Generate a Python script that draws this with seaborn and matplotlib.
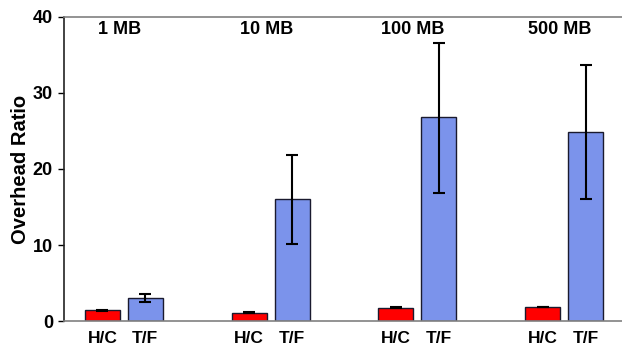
import numpy as np
import pandas as pd
import seaborn as sns
import matplotlib.pyplot as plt

# =========================
# DATA
# =========================
sizes = ["1 MB", "10 MB", "100 MB", "500 MB"]
methods = ["H/C", "T/F"]

hc_ratio = [1.40, 1.10, 1.75, 1.84]
tf_ratio = [3.05, 16.0, 26.8, 24.9]

hc_low = [1.35, 1.05, 1.68, 1.79]
hc_high = [1.45, 1.15, 1.82, 1.89]
tf_low = [2.55, 10.1, 16.9, 16.0]
tf_high = [3.55, 21.9, 36.6, 33.7]

df = pd.DataFrame({
    "Size": sizes * 2,
    "Method": ["H/C"] * 4 + ["T/F"] * 4,
    "Ratio": hc_ratio + tf_ratio,
})

colors = {"H/C": "#FF0000", "T/F": "#7B93EB"}

# =========================
# PLOT
# =========================
sns.set_theme(style="ticks")
plt.rcParams["font.family"] = ["Liberation Sans", "DejaVu Sans"]
plt.rcParams["font.weight"] = "bold"
plt.rcParams["text.color"] = "black"
plt.rcParams["axes.labelcolor"] = "black"
plt.rcParams["xtick.color"] = "black"
plt.rcParams["ytick.color"] = "black"

fig = plt.figure(figsize=(6.22, 3.43), dpi=100)
ax = fig.add_axes([64 / 622, 22 / 343, 558 / 622, 304 / 343])

sns.barplot(
    data=df, x="Size", y="Ratio", hue="Method",
    order=sizes, hue_order=methods,
    palette=colors, saturation=1, width=0.585, gap=0.186,
    edgecolor="#1a1a2e", linewidth=1.0,
    errorbar=None, legend=False, ax=ax,
)

# error bars from the low/high arrays
lows = [hc_low, tf_low]
highs = [hc_high, tf_high]
bar_groups = list(ax.containers)
tick_pos, tick_lab = [], []
for i, cont in enumerate(bar_groups):
    for j, bar in enumerate(cont.patches):
        xc = bar.get_x() + bar.get_width() / 2
        h = bar.get_height()
        ax.errorbar(xc, h, yerr=[[h - lows[i][j]], [highs[i][j] - h]],
                    fmt="none", ecolor="black", elinewidth=1.5,
                    capsize=4, capthick=1.5, zorder=5)
        tick_pos.append(xc)
        tick_lab.append(methods[i])

ax.set_xticks(tick_pos)
ax.set_xticklabels(tick_lab, fontsize=12.5, fontweight="bold")
ax.tick_params(axis="x", length=0, pad=7)

# group labels on top
for k, s in enumerate(sizes):
    ax.text(k - 0.03, 38.3, s, ha="center", va="center",
            fontsize=13, fontweight="bold")

ax.set_xlim(-0.408, 3.395)
ax.set_ylim(0, 40)
ax.set_yticks([0, 10, 20, 30, 40])
ax.set_yticklabels(["0", "10", "20", "30", "40"], fontsize=13, fontweight="bold")
ax.tick_params(axis="y", length=4, width=1, direction="out", pad=4)

ax.set_xlabel("")
ax.set_ylabel("Overhead Ratio", fontsize=14.5, fontweight="bold", labelpad=2)

ax.spines["right"].set_visible(False)
ax.spines["left"].set_color("#222222")
ax.spines["top"].set_color("#808080")
ax.spines["bottom"].set_color("#808080")
for sp in ax.spines.values():
    sp.set_linewidth(1.2)

plt.savefig("out.png", dpi=100)
